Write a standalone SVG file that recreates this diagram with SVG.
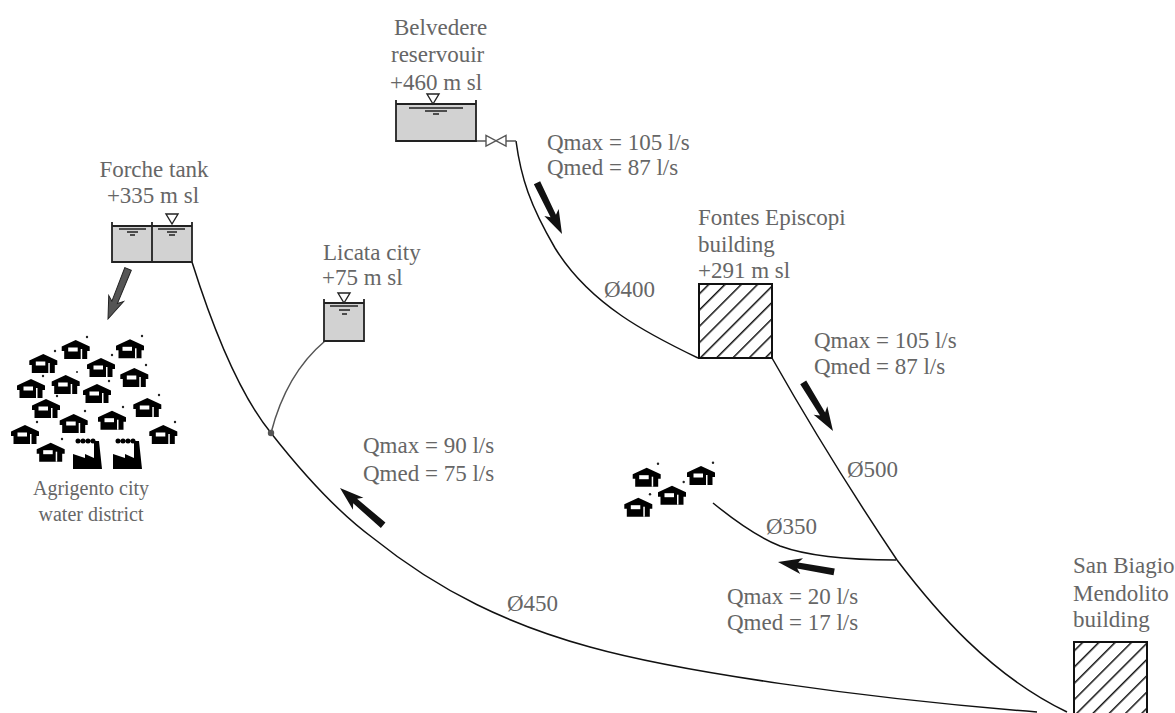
<svg xmlns="http://www.w3.org/2000/svg" width="1175" height="713" viewBox="0 0 1175 713">
<style>
text{font-family:"Liberation Serif","Times New Roman",serif;font-size:23px;fill:#666}
.m{text-anchor:middle}
.small{font-size:20px}
.pipe{fill:none;stroke:#111;stroke-width:1.5}
.gpipe{fill:none;stroke:#555;stroke-width:1.5}
.wall{fill:none;stroke:#222;stroke-width:1.8}
.water{fill:#d2d2d2}
.lvl{stroke:#222;stroke-width:1.5}
.tri{fill:#fff;stroke:#222;stroke-width:1.4}
.bld{fill:url(#hatch);stroke:#111;stroke-width:2}
.dot{fill:#222}
</style>
<defs>
<pattern id="hatch" patternUnits="userSpaceOnUse" width="11.5" height="11.5" patternTransform="rotate(45)">
<rect width="11.5" height="11.5" fill="#fff"/>
<rect x="0" width="1.5" height="11.5" fill="#111"/>
</pattern>
<symbol id="house" overflow="visible">
<path d="M0 0L14 6.5V11H11.500V19H-11.500V11H-14V6.500Z" fill="#000"/>
<rect x="-7.500" y="7.500" width="9.500" height="4" fill="#fff"/>
<rect x="5" y="9" width="1.500" height="10" fill="#fff"/>
</symbol>
<symbol id="factory" overflow="visible">
<path d="M0 32V17L12 21V17L21 21V4H26L29 32Z" fill="#000"/>
<path d="M5 4H25" stroke="#000" stroke-width="5" stroke-linecap="round" stroke-dasharray="0 5" fill="none"/>
</symbol>
<symbol id="arrow" overflow="visible">
<path d="M0 0L-8 -24L-3 -20L-3.500 -57L3.500 -57L3 -20L8 -24Z" fill="#111"/>
</symbol>
</defs>

<g id="connectors">
<path class="pipe" d="M192 262C215 335 240 395 271 433C300 470 335 510 373 538C440 592 510 625 590 647C680 672 860 698 1037 712"/>
<path class="gpipe" d="M271 433C282 390 300 362 325 341"/>
<path class="pipe" d="M516 141C521 178 530 205 555 248C590 305 650 335 698 358"/>
<path class="pipe" d="M772 358C810 425 860 505 897 560C935 610 990 675 1067 712"/>
<path class="pipe" d="M713 503C740 525 760 538 780 546C810 557 850 560 896 560"/>
<path d="M476 141H486M506 141H516" fill="none" stroke="#555" stroke-width="1.3"/>
<path d="M486 135.500V146L506 135.500V146Z" fill="#fff" stroke="#555" stroke-width="1.4"/>
<circle cx="271" cy="433" r="3.2" fill="#555"/>
<use href="#arrow" transform="translate(562,234) rotate(-26)"/>
<use href="#arrow" transform="translate(833,431) rotate(-31.500)"/>
<use href="#arrow" transform="translate(340,488) rotate(130.800)"/>
<use href="#arrow" transform="translate(778,562) rotate(100)"/>
<path d="M0 0L-8 -22L-3 -18L-3.500 -54L3.500 -54L3 -18L8 -22Z" transform="translate(108,319) rotate(21.800)" fill="#555" stroke="#222" stroke-width="1"/>
</g>

<g id="belvedere">
<text x="394" y="35">Belvedere</text>
<text x="391" y="62">reservouir</text>
<text x="390" y="90">+460 m sl</text>
<rect class="water" x="396" y="104" width="80" height="37"/>
<path class="wall" d="M396 100V141H476V100M396 104H476"/>
<path class="lvl" d="M409 108H463M425 111H447M433 114H439"/>
<path class="tri" d="M427 94H439L433 104Z"/>
</g>

<g id="forche">
<text class="m" x="154" y="177">Forche tank</text>
<text class="m" x="153" y="203">+335 m sl</text>
<rect class="water" x="112" y="226" width="80" height="36"/>
<path class="wall" d="M112 222V262H192V222M112 226H192M152 222V262"/>
<path class="lvl" d="M119 229H146M127 232H138M130 235H135M158 229H185M167 232H177M169 235H175"/>
<path class="tri" d="M166 214H178L172 224Z"/>
</g>

<g id="licata">
<text x="323" y="260">Licata city</text>
<text x="322" y="285">+75 m sl</text>
<rect class="water" x="324" y="303" width="40" height="38"/>
<path class="wall" d="M324 299V341H364V299M324 303H364"/>
<path class="lvl" d="M330 306H358M339 310H350M342 314H347"/>
<path class="tri" d="M338 293H350L344 303Z"/>
</g>

<g id="fontes">
<text x="698" y="225">Fontes Episcopi</text>
<text x="698" y="252">building</text>
<text x="698" y="278">+291 m sl</text>
<rect class="bld" x="699" y="284" width="73" height="74"/>
</g>

<g id="san-biagio">
<text x="1073" y="573">San Biagio</text>
<text x="1073" y="601">Mendolito</text>
<text x="1073" y="627">building</text>
<rect class="bld" x="1074" y="642" width="73" height="90"/>
</g>

<g id="agrigento">
<use href="#house" x="75.7" y="340"/><use href="#house" x="130" y="339.3"/>
<use href="#house" x="43.3" y="354"/><use href="#house" x="101" y="358"/>
<use href="#house" x="134.3" y="368"/><use href="#house" x="65.700" y="375"/>
<use href="#house" x="31" y="379"/><use href="#house" x="97" y="384"/>
<use href="#house" x="46" y="399"/><use href="#house" x="147.3" y="398"/>
<use href="#house" x="112" y="410.7"/><use href="#house" x="73.7" y="414"/>
<use href="#house" x="25" y="425"/><use href="#house" x="163.3" y="425"/>
<use href="#house" x="50.7" y="442.7"/>
<use href="#factory" x="73" y="437"/><use href="#factory" x="113" y="437"/>
<g class="dot">
<circle cx="87" cy="337" r="1.2"/><circle cx="142" cy="336" r="1.2"/><circle cx="55" cy="351" r="1.2"/><circle cx="112" cy="355" r="1.2"/><circle cx="146" cy="365" r="1.2"/><circle cx="43" cy="376" r="1.2"/><circle cx="77" cy="372" r="1"/><circle cx="109" cy="381" r="1.2"/><circle cx="57" cy="396" r="1.2"/><circle cx="159" cy="395" r="1.2"/><circle cx="85" cy="411" r="1.2"/><circle cx="123" cy="407" r="1.2"/><circle cx="37" cy="422" r="1.2"/><circle cx="175" cy="422" r="1.2"/><circle cx="62" cy="439" r="1.2"/>
</g>
<text class="m small" x="91" y="495">Agrigento city</text>
<text class="m small" x="91" y="521">water district</text>
</g>

<g id="small-houses">
<use href="#house" x="646.7" y="467.7"/><use href="#house" x="701" y="466"/>
<use href="#house" x="672" y="485.7"/><use href="#house" x="638.3" y="497.7"/>
<g class="dot"><circle cx="658" cy="463.7" r="1.2"/><circle cx="713" cy="462.7" r="1.2"/><circle cx="683.7" cy="482" r="1.2"/><circle cx="650" cy="494.3" r="1.2"/></g>
</g>

<g id="labels">
<text x="547" y="150">Qmax = 105 l/s</text>
<text x="547" y="175">Qmed = 87 l/s</text>
<text x="604" y="297">Ø400</text>
<text x="814" y="348">Qmax = 105 l/s</text>
<text x="814" y="374">Qmed = 87 l/s</text>
<text x="847" y="477">Ø500</text>
<text x="766" y="534">Ø350</text>
<text x="363" y="453">Qmax = 90 l/s</text>
<text x="363" y="481">Qmed = 75 l/s</text>
<text x="507" y="611">Ø450</text>
<text x="727" y="604">Qmax = 20 l/s</text>
<text x="727" y="630">Qmed = 17 l/s</text>
</g>
</svg>
